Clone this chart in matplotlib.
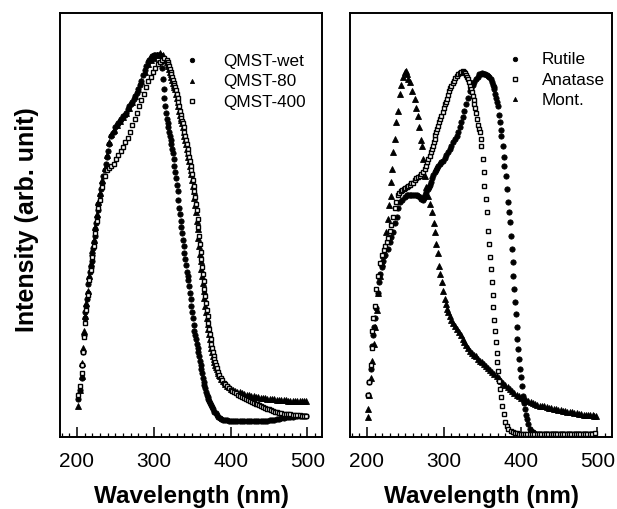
import matplotlib
matplotlib.use("Agg")
import matplotlib.pyplot as plt
from matplotlib.ticker import MultipleLocator

plt.rcParams['font.family'] = ['Liberation Sans', 'DejaVu Sans']

# (wavelength nm, intensity a.u.)
qmst_wet = [(202, 9), (204, 11), (206, 14), (207, 17), (208, 20), (209, 24), (210, 28), (211, 29.5), (212, 31),
            (213, 32.5), (214, 34), (215, 36), (216, 37.5), (217, 39), (218, 40), (219, 41.5), (220, 43),
            (221, 44.5), (222, 46), (223, 47.5), (224, 49), (225, 50.5), (226, 52), (227, 53.5), (228, 55),
            (230, 57), (231.5, 58.5), (233, 60), (234.5, 61.5), (236, 63), (237.5, 64.5), (239, 66), (240.5, 67.5),
            (242, 69), (245, 71), (248, 72), (250, 73), (252, 73.5), (254, 74), (256, 74.5), (258, 75), (260, 75.7),
            (262, 76), (264, 76.5), (266, 77.3), (268, 78), (270, 78.5), (272, 79), (274, 79.8), (276, 80.5),
            (278, 81.2), (280, 82), (282, 83), (284, 84), (286, 85.3), (288, 86.5), (290, 87.5), (292, 88.5),
            (294, 89), (296, 89.5), (298, 89.8), (300, 90), (302, 90), (304, 90), (306, 90), (308, 90), (310, 88.5),
            (311, 87), (312, 84.5), (313, 82), (314, 80), (315, 78), (316, 76.5), (317, 75), (318, 74), (319, 73),
            (320, 72), (321, 71), (322, 70), (323, 69), (324, 68), (325, 67), (326, 65.5), (327, 64), (328, 62.5),
            (329, 61), (330, 59.5), (331, 58), (332, 56), (333, 54), (334, 52.5), (335, 51), (336, 49.5), (337, 48),
            (338, 46.5), (339, 45), (340, 43.5), (341, 42), (342, 40.5), (343, 39), (344, 38), (345, 37),
            (346, 35.5), (347, 34), (348, 32.5), (349, 31), (350, 29.5), (351, 28), (352, 26.5), (353, 25),
            (354, 24), (355, 23), (356, 22), (357, 21), (358, 20), (359, 19), (360, 18), (361, 17), (362, 16),
            (363, 15), (364, 14), (365, 13), (366, 12.2), (367, 11.5), (368, 10.7), (369, 10), (370, 9.5), (371, 9),
            (372, 8.5), (373, 8), (374.5, 7.5), (376, 7), (377.5, 6.5), (379, 6), (380.5, 5.6), (382, 5.2),
            (384, 4.8), (386, 4.5), (388, 4.3), (390, 4.1), (392.5, 4.0), (395, 3.9), (397.5, 3.85), (400, 3.8),
            (403, 3.8), (406, 3.8), (409, 3.8), (412, 3.8), (415, 3.8), (418, 3.8), (421, 3.8), (424, 3.8),
            (427, 3.8), (430, 3.8), (433, 3.8), (436, 3.8), (439, 3.8), (442, 3.8), (445, 3.8), (448, 3.85),
            (451, 3.9), (454, 4.0), (457, 4.1), (460, 4.2), (463, 4.3), (466, 4.45), (469, 4.55), (472, 4.65),
            (475, 4.7), (478, 4.75), (481, 4.8), (484, 4.85), (487, 4.9), (490, 5.0), (493, 5.0), (496, 5.0),
            (498, 5.0)]

qmst_80 = [(201, 7.3), (204, 11), (206, 14.5), (207, 17.5), (208, 21), (209, 25), (210, 28.5), (212, 31.5),
           (214, 34.5), (216, 38), (218, 41), (220, 44), (222, 46.5), (224, 49.5), (226, 52.5), (228, 55.5),
           (230, 57.5), (233, 60.5), (236, 63.5), (239, 66.5), (242, 69.5), (245, 71.5), (248, 72.5), (252, 73.5),
           (256, 74.5), (260, 75.5), (264, 76.5), (268, 77.5), (272, 79), (276, 80.5), (280, 82), (284, 84),
           (288, 86), (292, 88), (296, 89), (300, 89.5), (304, 90), (308, 90.5), (312, 90), (316, 89),
           (317, 88.5), (318, 88), (319, 87.5), (320, 86.8), (321, 86.2), (322, 85.5), (323, 84.8), (324, 84.2),
           (325, 83.5), (326, 83), (327, 82.5), (328, 82), (329, 81), (330, 80), (331, 79), (332, 78), (333, 77),
           (334, 76), (335, 75.3), (336, 74.7), (337, 74), (338, 73), (339, 72), (340, 71), (341, 70), (342, 69),
           (343, 68), (344, 67), (345, 66), (346, 65), (347, 64), (348, 63), (349, 62), (350, 60.7), (351, 59.3),
           (352, 58), (353, 56.3), (354, 54.7), (355, 53), (356, 51), (357, 49), (358, 47), (359, 45), (360, 43.2),
           (361, 41.5), (362, 39.7), (363, 38), (364, 36.3), (365, 34.5), (366, 32.7), (367, 31), (368, 29.5),
           (369, 28), (370, 26.7), (371, 25.5), (372, 24.2), (373, 23), (374, 22), (375, 21), (376, 20), (377, 19),
           (378, 18.3), (379, 17.7), (380, 17), (381, 16.5), (382, 16), (383, 15.5), (384, 15.1), (385, 14.7),
           (386, 14.3), (388, 13.7), (390, 13.2), (392.5, 12.6), (395, 12.1), (397.5, 11.7), (400, 11.4),
           (403, 11.1), (406, 10.9), (409, 10.7), (412, 10.5), (415, 10.3), (418, 10.1), (421, 10), (424, 9.8),
           (427, 9.7), (430, 9.6), (433, 9.5), (436, 9.4), (439, 9.3), (442, 9.2), (445, 9.1), (448, 9.05),
           (451, 9), (454, 8.9), (457, 8.85), (460, 8.8), (463, 8.75), (466, 8.7), (469, 8.7), (472, 8.65),
           (475, 8.6), (478, 8.6), (481, 8.55), (484, 8.5), (487, 8.5), (490, 8.5), (493, 8.5), (496, 8.45),
           (498, 8.4)]

qmst_400 = [(202, 10), (204, 12), (206, 15), (207, 17), (208, 20), (209, 23.5), (210, 27), (212, 30), (214, 33.5),
            (216, 37), (218, 39.5), (220, 42.5), (222, 45), (224, 48), (226, 51), (228, 54), (230, 56), (233, 59),
            (236, 61.5), (239, 63), (242, 63.5), (245, 63.8), (248, 64.5), (251, 65.5), (254, 66.5), (257, 67.5),
            (260, 68.5), (263, 69.5), (266, 70.5), (269, 72), (272, 73.5), (275, 75), (278, 76.5), (281, 78),
            (284, 79.5), (287, 81), (290, 82.5), (293, 84), (296, 85), (299, 86), (302, 87), (305, 88),
            (308, 88.5), (311, 89), (314, 89.3), (317, 89), (318, 88.5), (319, 88), (320, 87.5), (321, 86.8),
            (322, 86.2), (323, 85.5), (324, 84.8), (325, 84.2), (326, 83.5), (327, 83), (328, 82.5), (329, 81.8),
            (330, 81), (331, 80), (332, 79), (333, 78), (334, 77), (335, 76), (336, 75.3), (337, 74.6), (338, 74),
            (339, 73), (340, 72), (341, 71), (342, 70), (343, 69), (344, 68), (345, 67), (346, 66), (347, 65),
            (348, 64), (349, 63), (350, 62), (351, 60.7), (352, 59.3), (353, 58), (354, 56.5), (355, 55),
            (356, 53.5), (357, 51.5), (358, 49.5), (359, 47.5), (360, 45.5), (361, 43.7), (362, 42), (363, 40.2),
            (364, 38.5), (365, 36.7), (366, 35), (367, 33.2), (368, 31.5), (369, 30), (370, 28.5), (371, 27),
            (372, 25.5), (373, 24.2), (374, 23), (375, 22), (376, 21), (377, 20), (378, 19), (379, 18.3),
            (380, 17.6), (381, 17), (382.5, 16.2), (384, 15.3), (385.5, 14.6), (387, 14), (389, 13.4), (391, 12.8),
            (393, 12.4), (395, 12), (397.5, 11.6), (400, 11.2), (402.5, 10.9), (405, 10.6), (407.5, 10.3),
            (410, 10), (412.5, 9.7), (415, 9.4), (417.5, 9.2), (420, 9), (422.5, 8.7), (425, 8.5), (427.5, 8.3),
            (430, 8.1), (432.5, 7.9), (435, 7.7), (437.5, 7.5), (440, 7.3), (442.5, 7.1), (445, 6.9),
            (447.5, 6.7), (450, 6.5), (452.5, 6.3), (455, 6.1), (457.5, 5.95), (460, 5.8), (463, 5.7), (466, 5.6),
            (469, 5.5), (472, 5.45), (475, 5.4), (478, 5.35), (481, 5.3), (484, 5.2), (487, 5.15), (490, 5.1),
            (493, 5.05), (496, 5), (498, 5)]

rutile = [(201, 10), (203, 13), (205, 16), (206.5, 21.5), (208, 24), (209, 26), (210.5, 28), (212, 30.5),
          (214, 34), (216, 36.5), (217.5, 38.5), (219, 40), (221, 41.5), (224, 43), (227, 44.3), (230, 46),
          (232, 47.2), (234, 48.3), (237, 50.5), (239, 52), (241, 54), (243, 55.4), (246, 56), (249, 56.5),
          (252, 57), (254, 57), (256, 57), (258, 57), (260, 57), (262.5, 57), (265, 57), (267, 56.8), (269, 56.5),
          (271, 56.2), (273, 56), (274.5, 56.4), (276, 57), (277.5, 57.8), (279, 58.5), (280.5, 59), (282, 59.5),
          (283.5, 60.2), (285, 61), (286.5, 61.8), (288, 62.5), (289.5, 63), (291, 63.5), (293, 64), (295, 64.5),
          (297, 64.8), (299, 65), (301, 65.7), (303, 66.5), (305.5, 67.2), (308, 68), (310, 68.7), (312, 69.5),
          (314.5, 70.2), (317, 71), (319, 72), (321, 73), (323, 74.2), (325, 75.5), (327, 77), (329, 78.5),
          (331.5, 80), (334, 81.5), (336, 82.3), (338, 83), (340, 83.8), (342, 84.5), (344, 85), (346, 85.5),
          (348, 85.7), (350, 85.8), (352, 85.7), (354, 85.6), (356, 85.4), (358, 85.2), (359.5, 84.9), (361, 84.5),
          (362.5, 83.8), (364, 83), (365, 82.5), (366, 82), (367, 81), (368, 80), (369, 79), (370, 78),
          (371.5, 76), (372.7, 74.3), (374, 72.5), (375, 71), (376.6, 68.6), (378, 66), (379, 64), (380.5, 61.6),
          (381.8, 58.5), (383, 55.4), (384.4, 53), (385.7, 50.7), (387, 47.4), (388.3, 44.3), (389.6, 41.3),
          (390.5, 38), (391.5, 34.9), (392.5, 31.8), (393.5, 29), (394.8, 25.9), (395.5, 23.1), (396.5, 20.8),
          (397.4, 18.4), (398.7, 16), (400, 14.2), (401.3, 12), (402.6, 9.7), (404, 8), (405.2, 6.6),
          (406.5, 5.3), (407.8, 4.2), (409.5, 3), (411.7, 1.9), (414, 1.4), (416, 1.2), (418, 1), (421, 0.8),
          (424, 0.7), (427, 0.7), (430, 0.7), (433, 0.7), (436, 0.7), (439, 0.7), (442, 0.7), (445, 0.7),
          (448, 0.7), (451, 0.7), (454, 0.7), (457, 0.7), (460, 0.7), (463, 0.7), (466, 0.7), (469, 0.7),
          (472, 0.7), (475, 0.7), (478, 0.7), (481, 0.7), (484, 0.7), (487, 0.7), (490, 0.7), (493, 0.7),
          (495, 0.7)]

anatase = [(201, 10), (203, 13), (205, 17), (206, 21), (207, 25), (208, 28), (210, 31), (212, 35), (214, 38),
           (217, 41), (220, 43), (222, 44), (224, 45), (226, 46), (228, 47), (230, 48.5), (232, 50), (234, 52),
           (236, 54), (238, 55.5), (240, 57), (242, 57.5), (244, 58), (246, 58.2), (248, 58.5), (250, 58.8),
           (252, 59), (254, 59.2), (256, 59.5), (258, 59.8), (260, 60), (262, 60.5), (264, 61), (266.5, 61.3),
           (269, 61.6), (271, 62), (273, 62.5), (275, 63.2), (277, 64), (278.5, 64.8), (280, 65.5), (281.5, 66.3),
           (283, 67.2), (284.5, 67.9), (286, 68.6), (287, 69.5), (288, 70.3), (289, 71.2), (290, 72), (291, 72.7),
           (292, 73.3), (293.5, 74.2), (295, 75), (297, 75.8), (299, 76.7), (300.5, 77.6), (302, 78.5),
           (303, 79.1), (304, 79.7), (305.5, 80.6), (307, 81.5), (308.5, 82.2), (310, 82.8), (311.5, 83.4),
           (313, 84), (315, 84.6), (317, 85.1), (319, 85.5), (321, 85.8), (323, 86), (325, 86.3), (326.5, 86.1),
           (328, 85.8), (329, 85.4), (330, 85), (331.5, 84.4), (333, 83.7), (334.5, 82.9), (336, 82.1),
           (337, 81.3), (338, 80.5), (339, 79.5), (340, 78.5), (341, 77.5), (342, 76.5), (343.5, 75), (345, 73.5),
           (346, 72.7), (347, 71.9), (348, 70.2), (349, 68.6), (350.5, 65.6), (352, 62.5), (353, 59.2),
           (354.5, 56.1), (355.8, 53.1), (357.1, 48.6), (358.4, 45.5), (359.7, 42.5), (361, 39.6), (362.3, 36.6),
           (363.6, 33.5), (364.5, 30.7), (365.3, 27.6), (366.2, 25), (367.5, 22.4), (368.8, 19.8), (369.5, 17.7),
           (370.3, 15.6), (371.4, 13.2), (373, 11.3), (374.5, 9.4), (376, 7.3), (377.9, 5.4), (380, 3.5),
           (382, 2.6), (384, 1.9), (387, 1.5), (390, 1.2), (392.5, 1), (395, 0.9), (397.5, 0.8), (400, 0.7),
           (403, 0.7), (406, 0.7), (409, 0.7), (412, 0.7), (415, 0.7), (418, 0.7), (421, 0.7), (424, 0.7),
           (427, 0.7), (430, 0.7), (433, 0.7), (436, 0.7), (439, 0.7), (442, 0.7), (445, 0.7), (448, 0.7),
           (451, 0.7), (454, 0.7), (457, 0.7), (460, 0.7), (463, 0.7), (466, 0.7), (469, 0.7), (472, 0.7),
           (475, 0.7), (478, 0.7), (481, 0.7), (484, 0.7), (487, 0.7), (490, 0.7), (493, 0.7), (497, 1)]

mont = [(201, 4.7), (202, 6.6), (203, 10), (205, 14), (207, 18), (209, 22), (211, 26), (213, 30), (215, 34),
        (217, 38), (219, 41), (221, 43), (223, 45), (225.5, 48.3), (227.7, 51.4), (229, 54.6), (230.8, 56.9),
        (232, 60.1), (233.3, 63.2), (234.2, 67.1), (236.4, 70.3), (238.5, 74.2), (240.7, 77), (242.9, 80.9),
        (245, 83), (247, 85), (249, 86), (250.6, 86.3), (252, 85.5), (254, 84.5), (256, 83.7), (259, 81.5),
        (262, 79.7), (264, 77.5), (266, 75.7), (268, 73), (270, 70), (271.5, 68.6), (273, 65.6), (275, 61.6),
        (277, 59), (279, 56.8), (282, 55), (284.5, 53), (287, 50.5), (289, 48.3), (290.5, 45.5), (292, 43.5),
        (293.5, 40.3), (295.5, 38.5), (297.5, 36.6), (299.5, 34.5), (301.5, 32.5), (303, 31.3), (304.5, 30.3),
        (306, 29.4), (308, 28.5), (310, 27.7), (312, 27), (314.5, 26.2), (317, 25.5), (319.5, 24.7), (322, 24),
        (324.5, 23.1), (327, 22.3), (329.5, 21.6), (332, 21), (334.5, 20.4), (337, 19.8), (339.5, 19.4),
        (342, 19), (344.5, 18.5), (347, 18), (349.5, 17.6), (352, 17.2), (354.5, 16.7), (357, 16.2),
        (360, 15.7), (363, 15.3), (366, 14.8), (369, 14.3), (372, 13.8), (375, 13.3), (377.5, 12.8),
        (380, 12.3), (383, 11.8), (386, 11.3), (389, 10.8), (392, 10.4), (395, 10), (398, 9.6), (401, 9.3),
        (404, 9), (407, 8.8), (410, 8.6), (413, 8.3), (416, 8.1), (419, 7.8), (422, 7.6), (425, 7.4),
        (428, 7.3), (431, 7.2), (434, 7.1), (437, 6.9), (440, 6.8), (443, 6.6), (446, 6.5), (449, 6.4),
        (452, 6.3), (455, 6.2), (458, 6.1), (461, 6), (464, 5.9), (467, 5.8), (470, 5.7), (473, 5.6),
        (476, 5.5), (479, 5.4), (482, 5.3), (485, 5.25), (488, 5.2), (491, 5.15), (494, 5.1), (496, 5.05),
        (498, 5.0)]

left_labels = ['QMST-wet', 'QMST-80', 'QMST-400']
right_labels = ['Rutile', 'Anatase', 'Mont.']

# marker styles: filled circle, filled triangle, open square
circ = dict(marker='o', ms=3.8, mfc='black', mec='black', mew=0.6, ls='none')
tri = dict(marker='^', ms=3.8, mfc='black', mec='black', mew=0.6, ls='none')
sq = dict(marker='s', ms=3.4, mfc='white', mec='black', mew=1.0, ls='none')

# smaller markers for the legend keys
leg_circ = dict(circ, ms=3.2)
leg_tri = dict(tri, ms=3.0)
leg_sq = dict(sq, ms=3.0)

fig = plt.figure(figsize=(6.17, 5.10), dpi=100)
ax1 = fig.add_axes([60 / 617, 1 - 438 / 510, 262 / 617, 424 / 510])
ax2 = fig.add_axes([350 / 617, 1 - 438 / 510, 262 / 617, 424 / 510])


def draw(ax, series, styles):
    for data, st in zip(series, styles):
        x = [p[0] for p in data]
        y = [p[1] for p in data]
        ax.plot(x, y, **st)


draw(ax1, [qmst_wet, qmst_80, qmst_400], [circ, tri, sq])
draw(ax2, [mont, rutile, anatase], [tri, circ, sq])


def legend(ax, labels, styles, mx, tx, rows):
    for lab, st, ry in zip(labels, styles, rows):
        ax.plot([mx], [ry], transform=ax.transAxes, clip_on=False, **st)
        ax.text(tx, ry, lab, transform=ax.transAxes, fontsize=12.3, va='center', ha='left')


legend(ax1, left_labels, [leg_circ, leg_tri, leg_sq], 0.504, 0.622, [0.889, 0.840, 0.792])
legend(ax2, right_labels, [leg_circ, leg_sq, leg_tri], 0.63, 0.733, [0.892, 0.844, 0.797])

for ax in (ax1, ax2):
    ax.set_xlim(178, 519)
    ax.set_ylim(0, 100)
    ax.set_yticks([])
    ax.xaxis.set_major_locator(MultipleLocator(100))
    ax.xaxis.set_minor_locator(MultipleLocator(10))
    ax.tick_params(axis='x', which='major', direction='in', length=7, width=1.1, labelsize=15, pad=10)
    ax.tick_params(axis='x', which='minor', direction='in', length=3, width=0.9)
    for s in ax.spines.values():
        s.set_linewidth(1.4)
    ax.set_xlabel('Wavelength (nm)', fontsize=17.5, fontweight='bold', labelpad=10)

fig.text(27 / 617, 1 - 220 / 510, 'Intensity (arb. unit)', rotation=90, fontsize=18,
         fontweight='bold', ha='center', va='center')

fig.savefig('out.png', dpi=100)
